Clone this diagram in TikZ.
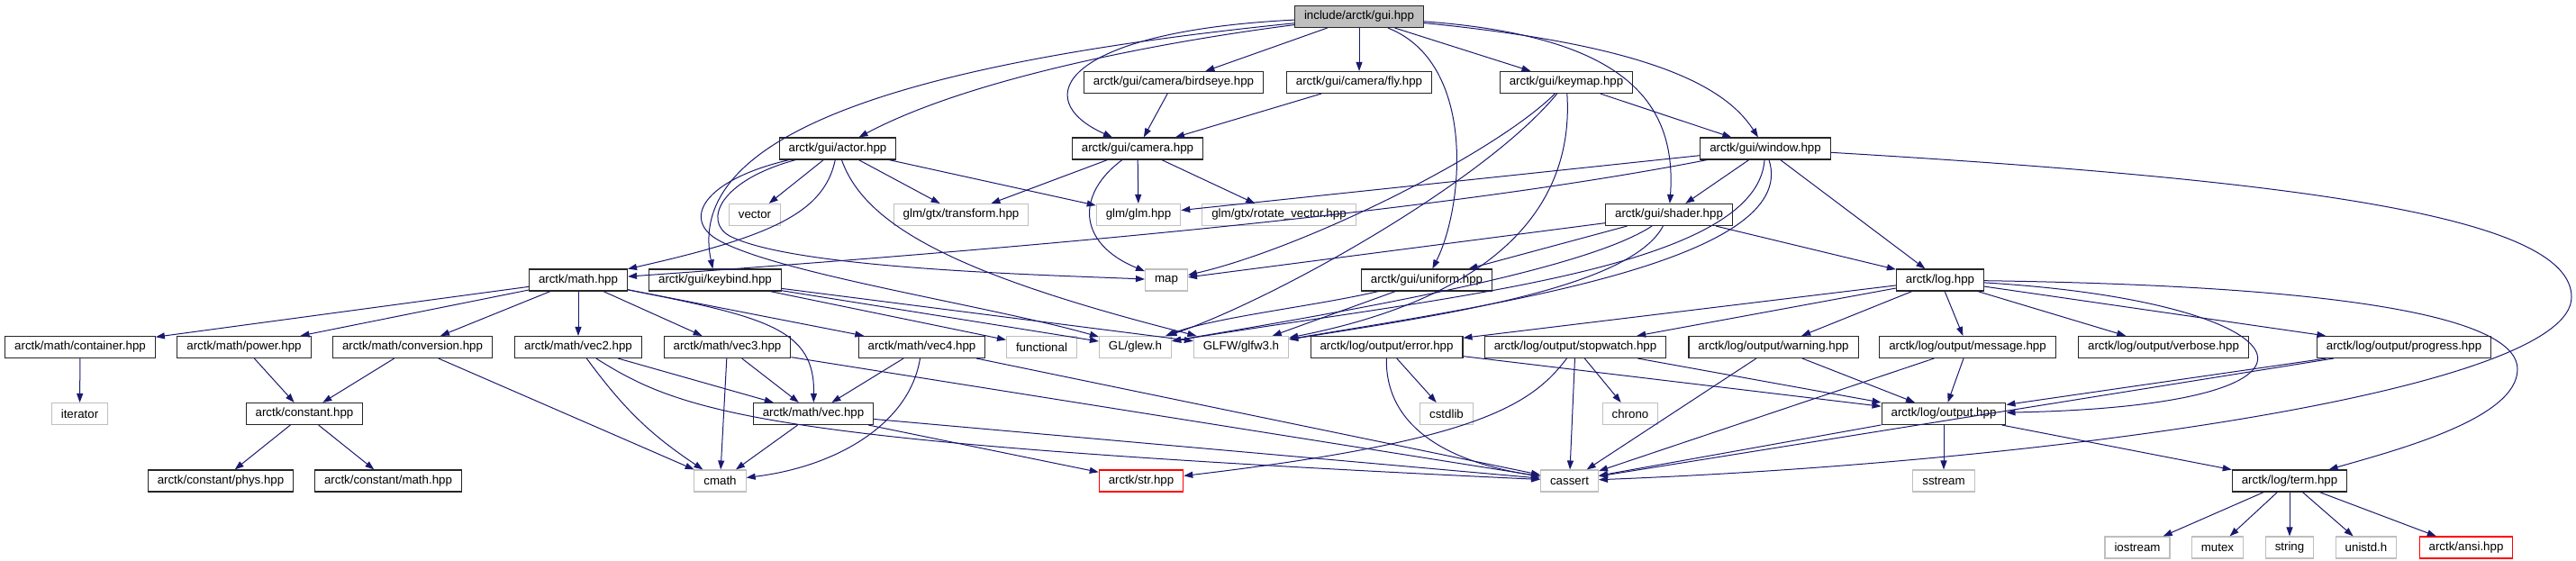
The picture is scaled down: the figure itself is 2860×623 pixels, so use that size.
\documentclass[tikz,border=0pt]{standalone}
\usepackage{fontspec}
\setmainfont{Liberation Sans}
\usetikzlibrary{arrows.meta}
\definecolor{edgeblue}{RGB}{25,25,112}
\definecolor{sysgray}{RGB}{191,191,191}

\begin{document}
\begin{tikzpicture}[x=1pt,y=-1pt,>={Stealth[length=10pt,width=7pt,inset=0pt]},
  hdr/.style={draw=black!85,line width=1.1pt,fill=white,minimum height=24pt,inner xsep=10.5pt,inner ysep=0pt,font=\fontsize{13.3}{15}\selectfont},
  sys/.style={hdr,draw=sysgray},
  nodoc/.style={hdr,draw=red},
  inc/.style={->,color=edgeblue,line width=1pt}]
  \useasboundingbox (0,0) rectangle (2860,623);
  \node[hdr,fill=sysgray] (gui) at (1509,18.5) {include/arctk/gui.hpp};
  \node[hdr] (birdseye) at (1303,91.5) {arctk/gui/camera/birdseye.hpp};
  \node[hdr] (fly) at (1509,91.5) {arctk/gui/camera/fly.hpp};
  \node[hdr] (keymap) at (1739,91.5) {arctk/gui/keymap.hpp};
  \node[hdr] (actor) at (930,165) {arctk/gui/actor.hpp};
  \node[hdr] (camera) at (1263,165) {arctk/gui/camera.hpp};
  \node[hdr] (window) at (1960,165) {arctk/gui/window.hpp};
  \node[sys] (vector) at (838,238.5) {vector};
  \node[sys] (transform) at (1067,238.5) {glm/gtx/transform.hpp};
  \node[sys] (glm) at (1264,238.5) {glm/glm.hpp};
  \node[sys] (rotvec) at (1420,238.5) {glm/gtx/rotate\_vector.hpp};
  \node[hdr] (shader) at (1853,238.5) {arctk/gui/shader.hpp};
  \node[hdr] (math) at (642,311) {arctk/math.hpp};
  \node[hdr] (keybind) at (794,311) {arctk/gui/keybind.hpp};
  \node[sys] (map) at (1295,311) {map};
  \node[hdr] (uniform) at (1584,311) {arctk/gui/uniform.hpp};
  \node[hdr] (log) at (2154,311) {arctk/log.hpp};
  \node[hdr] (container) at (89,385.5) {arctk/math/container.hpp};
  \node[hdr] (power) at (271,385.5) {arctk/math/power.hpp};
  \node[hdr] (conversion) at (458,385.5) {arctk/math/conversion.hpp};
  \node[hdr] (vec2) at (642,385.5) {arctk/math/vec2.hpp};
  \node[hdr] (vec3) at (807.5,385.5) {arctk/math/vec3.hpp};
  \node[hdr] (vec4) at (1023.5,385.5) {arctk/math/vec4.hpp};
  \node[sys] (functional) at (1156.5,385.5) {functional};
  \node[sys] (glew) at (1260.5,385.5) {GL/glew.h};
  \node[sys] (glfw) at (1378,385.5) {GLFW/glfw3.h};
  \node[hdr] (error) at (1539.5,385.5) {arctk/log/output/error.hpp};
  \node[hdr] (stopwatch) at (1749,385.5) {arctk/log/output/stopwatch.hpp};
  \node[hdr] (warning) at (1969,385.5) {arctk/log/output/warning.hpp};
  \node[hdr] (message) at (2184.5,385.5) {arctk/log/output/message.hpp};
  \node[hdr] (verbose) at (2402,385.5) {arctk/log/output/verbose.hpp};
  \node[hdr] (progress) at (2669,385.5) {arctk/log/output/progress.hpp};
  \node[sys] (iterator) at (88.5,459.5) {iterator};
  \node[hdr] (constant) at (338,459.5) {arctk/constant.hpp};
  \node[hdr] (vec) at (903,459.5) {arctk/math/vec.hpp};
  \node[sys] (cstdlib) at (1606,459.5) {cstdlib};
  \node[sys] (chrono) at (1810,459.5) {chrono};
  \node[hdr] (output) at (2158,459.5) {arctk/log/output.hpp};
  \node[hdr] (phys) at (245,534) {arctk/constant/phys.hpp};
  \node[hdr] (constmath) at (431,534) {arctk/constant/math.hpp};
  \node[sys] (cmath) at (799.5,534) {cmath};
  \node[nodoc] (str) at (1267,534) {arctk/str.hpp};
  \node[sys] (cassert) at (1742.5,534) {cassert};
  \node[sys] (sstream) at (2158,534) {sstream};
  \node[hdr] (term) at (2542,534) {arctk/log/term.hpp};
  \node[sys] (iostream) at (2373,608) {iostream};
  \node[sys] (mutex) at (2462,608) {mutex};
  \node[sys] (string) at (2542,608) {string};
  \node[sys] (unistd) at (2627,608) {unistd.h};
  \node[nodoc] (ansi) at (2738,608) {arctk/ansi.hpp};
  \draw[inc] (gui) .. controls (1300,45) and (1080,85) .. (actor);
  \draw[inc] (gui) .. controls (1000,70) and (760,150) .. (keybind);
  \draw[inc] (gui) .. controls (1180,35) and (1140,110) .. (camera);
  \draw[inc] (gui) -- (birdseye);
  \draw[inc] (gui) -- (fly);
  \draw[inc] (gui) -- (keymap);
  \draw[inc] (gui) .. controls (1640,70) and (1625,230) .. (uniform);
  \draw[inc] (gui) .. controls (1800,40) and (1862,110) .. (shader);
  \draw[inc] (gui) .. controls (1830,50) and (1915,95) .. (window);
  \draw[inc] (birdseye) -- (camera);
  \draw[inc] (fly) -- (camera);
  \draw[inc] (keymap) .. controls (1660,170) and (1450,275) .. (map);
  \draw[inc] (keymap) .. controls (1650,200) and (1420,330) .. (glew);
  \draw[inc] (keymap) .. controls (1748,230) and (1660,330) .. (glfw);
  \draw[inc] (keymap) -- (window);
  \draw[inc] (actor) -- (vector);
  \draw[inc] (actor) -- (transform);
  \draw[inc] (actor) -- (glm);
  \draw[inc] (actor) .. controls (915,235) and (860,262) .. (math);
  \draw[inc] (actor) .. controls (800,200) and (780,245) .. (810,262) .. controls (880,298) and (1150,305) .. (map);
  \draw[inc] (actor) .. controls (780,200) and (755,245) .. (800,268) .. controls (870,305) and (1100,340) .. (glew);
  \draw[inc] (actor) .. controls (960,250) and (1060,305) .. (glfw);
  \draw[inc] (camera) -- (transform);
  \draw[inc] (camera) -- (glm);
  \draw[inc] (camera) -- (rotvec);
  \draw[inc] (camera) .. controls (1195,215) and (1195,270) .. (map);
  \draw[inc] (window) .. controls (1600,235) and (1150,275) .. (math);
  \draw[inc] (window) -- (glm);
  \draw[inc] (window) -- (shader);
  \draw[inc] (window) .. controls (1950,300) and (1600,330) .. (glew);
  \draw[inc] (window) .. controls (2000,290) and (1650,340) .. (glfw);
  \draw[inc] (window) -- (log);
  \draw[inc] (window) .. controls (2550,200) and (2855,240) .. (2855,330) .. controls (2855,430) and (2300,512) .. (cassert);
  \draw[inc] (shader) -- (map);
  \draw[inc] (shader) -- (uniform);
  \draw[inc] (shader) .. controls (1760,300) and (1500,345) .. (glew);
  \draw[inc] (shader) .. controls (1810,320) and (1600,350) .. (glfw);
  \draw[inc] (shader) -- (log);
  \draw[inc] (uniform) .. controls (1460,340) and (1350,352) .. (glew);
  \draw[inc] (uniform) -- (glfw);
  \draw[inc] (keybind) -- (functional);
  \draw[inc] (keybind) -- (glew);
  \draw[inc] (keybind) -- (glfw);
  \draw[inc] (math) -- (container);
  \draw[inc] (math) -- (power);
  \draw[inc] (math) -- (conversion);
  \draw[inc] (math) -- (vec2);
  \draw[inc] (math) -- (vec3);
  \draw[inc] (math) -- (vec4);
  \draw[inc] (math) .. controls (850,352) and (905,365) .. (vec);
  \draw[inc] (container) -- (iterator);
  \draw[inc] (power) -- (constant);
  \draw[inc] (conversion) -- (constant);
  \draw[inc] (conversion) -- (cmath);
  \draw[inc] (constant) -- (phys);
  \draw[inc] (constant) -- (constmath);
  \draw[inc] (vec2) -- (vec);
  \draw[inc] (vec2) to[bend right=10] (cmath);
  \draw[inc] (vec2) .. controls (760,460) and (850,492) .. (cassert);
  \draw[inc] (vec3) -- (vec);
  \draw[inc] (vec3) -- (cmath);
  \draw[inc] (vec3) -- (cassert);
  \draw[inc] (vec4) -- (vec);
  \draw[inc] (vec4) .. controls (1010,470) and (930,518) .. (cmath);
  \draw[inc] (vec4) -- (cassert);
  \draw[inc] (vec) -- (cmath);
  \draw[inc] (vec) -- (str);
  \draw[inc] (vec) -- (cassert);
  \draw[inc] (log) -- (error);
  \draw[inc] (log) -- (stopwatch);
  \draw[inc] (log) -- (warning);
  \draw[inc] (log) -- (message);
  \draw[inc] (log) -- (verbose);
  \draw[inc] (log) -- (progress);
  \draw[inc] (log) .. controls (2560,335) and (2640,450) .. (output);
  \draw[inc] (log) .. controls (2650,318) and (2795,360) .. (2795,410) .. controls (2795,465) and (2660,500) .. (term);
  \draw[inc] (error) -- (cstdlib);
  \draw[inc] (error) .. controls (1538,470) and (1600,512) .. (cassert);
  \draw[inc] (error) -- (output);
  \draw[inc] (stopwatch) -- (chrono);
  \draw[inc] (stopwatch) -- (cassert);
  \draw[inc] (stopwatch) .. controls (1700,450) and (1640,490) .. (str);
  \draw[inc] (stopwatch) -- (output);
  \draw[inc] (warning) -- (cassert);
  \draw[inc] (warning) -- (output);
  \draw[inc] (message) -- (cassert);
  \draw[inc] (message) -- (output);
  \draw[inc] (progress) -- (output);
  \draw[inc] (progress) -- (cassert);
  \draw[inc] (output) -- (cassert);
  \draw[inc] (output) -- (sstream);
  \draw[inc] (output) -- (term);
  \draw[inc] (term) -- (iostream);
  \draw[inc] (term) -- (mutex);
  \draw[inc] (term) -- (string);
  \draw[inc] (term) -- (unistd);
  \draw[inc] (term) -- (ansi);
\end{tikzpicture}
\end{document}
